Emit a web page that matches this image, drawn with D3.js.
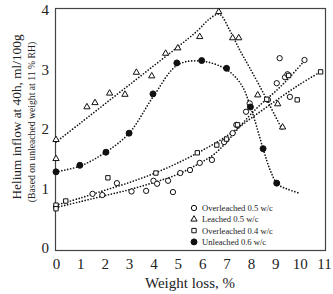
<!DOCTYPE html>
<html>
<head>
<meta charset="utf-8">
<script src="https://cdn.jsdelivr.net/npm/d3@7"></script>
<style>
  body { margin: 0; background: #fff; }
  svg text { font-family: "Liberation Serif", "DejaVu Serif", serif; }
  .fit { fill: none; stroke: #111; stroke-width: 1.7; stroke-dasharray: 0 3; stroke-linecap: round; }
</style>
</head>
<body>
<div id="chart"></div>
<script>
// measured points, [weight loss %, helium inflow]
const overleached05 = [[0, 0.69], [1.5, 0.91], [1.9, 0.89], [2.5, 1.09], [3.1, 0.95], [3.7, 0.96], [4.0, 1.13],
  [4.15, 1.08], [4.6, 1.13], [4.8, 0.94], [5.1, 1.26], [5.5, 1.31], [5.9, 1.43], [6.4, 1.48], [6.9, 1.78],
  [7.25, 1.93], [7.4, 2.07], [7.8, 2.29], [7.95, 2.43], [8.7, 2.49], [9.06, 2.77], [9.18, 3.19], [9.4, 2.87],
  [9.5, 2.92], [9.6, 2.54], [10.2, 3.16]];
const leached05 = [[0, 1.82], [0, 1.5], [1.27, 2.37], [1.6, 2.44], [2.2, 2.6], [2.83, 2.58], [3.3, 2.95],
  [3.93, 2.89], [4.5, 3.27], [5.0, 3.36], [5.9, 3.55], [6.68, 3.97], [7.25, 3.53], [7.5, 3.53], [8.28, 2.57],
  [9.1, 2.42], [9.3, 2.03]];
const overleached04 = [[0, 0.72], [0, 0.66], [0.4, 0.79], [2.13, 1.18], [4.1, 1.26], [5.8, 1.6], [6.6, 1.73],
  [7.0, 1.83], [7.45, 2.07], [8.65, 2.5], [9.55, 2.9], [9.9, 2.49], [10.86, 2.96]];
const unleached06 = [[0, 1.28], [0.98, 1.39], [2.05, 1.61], [3.0, 1.93], [3.98, 2.59], [4.96, 3.11],
  [5.98, 3.15], [7.0, 3.02], [7.98, 2.37], [8.5, 1.67], [9.06, 1.09]];

// dotted trend lines as drawn on the figure
const fitOverleached05 = [[0, 0.68], [1, 0.78], [2, 0.88], [3, 0.98], [4, 1.1], [5, 1.24], [6, 1.45], [6.5, 1.58],
  [7, 1.78], [7.5, 2.02], [8, 2.25], [8.5, 2.45], [9, 2.63], [9.5, 2.83], [10.2, 3.15]];
const fitLeached05 = [[0, 1.78], [1, 2.1], [2, 2.42], [3, 2.74], [4, 3.06], [5, 3.38], [5.8, 3.65], [6.3, 3.85],
  [6.7, 3.93], [7.13, 3.66], [7.54, 3.33], [7.95, 3.03], [8.44, 2.66], [8.77, 2.4], [9.3, 1.98]];
const fitOverleached04 = [[0, 0.72], [1, 0.84], [2, 0.97], [3, 1.1], [4, 1.25], [5, 1.43], [6, 1.64], [7, 1.88],
  [8, 2.18], [9, 2.47], [10, 2.75], [10.9, 2.97]];
const fitUnleached06 = [[0, 1.28], [1, 1.38], [2, 1.6], [3, 1.93], [4, 2.55], [5, 3.08], [6, 3.14], [7, 3.0],
  [7.6, 2.75], [8.0, 2.35], [8.5, 1.67], [8.8, 1.3], [9.1, 1.07], [9.5, 0.99], [10, 0.92]];

const seriesNames = ['Overleached 0.5 w/c', 'Leached 0.5 w/c', 'Overleached 0.4 w/c', 'Unleached 0.6 w/c'];
const xTicks = [0, 1, 2, 3, 4, 5, 6, 7, 8, 9, 10, 11];
const yTicks = [0, 1, 2, 3, 4];

const w = 333, h = 294;
const svg = d3.select('#chart').append('svg').attr('width', w).attr('height', h);

const x = d3.scaleLinear().domain([0, 11]).range([56, 324]);
const y = d3.scaleLinear().domain([0, 4]).range([248, 10]);

// frame
svg.append('rect')
  .attr('x', 55.5).attr('y', 8.5)
  .attr('width', 270).attr('height', 242)
  .attr('fill', 'none').attr('stroke', '#444').attr('stroke-width', 1.2);

const xAxis = d3.axisBottom(x).tickValues(xTicks).tickFormat(d3.format('d')).tickSize(0).tickPadding(7);
svg.append('g').attr('transform', 'translate(0,251)').call(xAxis)
  .attr('font-family', null)
  .call(g => g.select('.domain').remove())
  .selectAll('text').attr('font-size', 15).attr('fill', '#222');

const yAxis = d3.axisLeft(y).tickValues(yTicks).tickFormat(d3.format('d')).tickSize(0).tickPadding(6);
svg.append('g').attr('transform', 'translate(55,0)').call(yAxis)
  .attr('font-family', null)
  .call(g => g.select('.domain').remove())
  .selectAll('text').attr('font-size', 15).attr('fill', '#222');

// axis titles
svg.append('text')
  .attr('x', 190).attr('y', 288)
  .attr('text-anchor', 'middle').attr('font-size', 15).attr('fill', '#222')
  .text('Weight loss, %');

svg.append('text')
  .attr('transform', 'translate(21,117) rotate(-90)')
  .attr('text-anchor', 'middle').attr('font-size', 13.3).attr('fill', '#222')
  .text('Helium inflow at 40h, ml/100g');

svg.append('text')
  .attr('transform', 'translate(35,122) rotate(-90)')
  .attr('text-anchor', 'middle').attr('font-size', 9.7).attr('fill', '#222')
  .text('(Based on unleached weight at 11 % RH)');

// trend lines
const line = d3.line().x(d => x(d[0])).y(d => y(d[1])).curve(d3.curveCatmullRom);
[fitOverleached05, fitLeached05, fitOverleached04, fitUnleached06].forEach(f => {
  svg.append('path').attr('class', 'fit').attr('d', line(f));
});

// markers
const sym = [
  { type: d3.symbolCircle, size: 22, fill: '#fff' },
  { type: d3.symbolTriangle, size: 17, fill: '#fff' },
  { type: d3.symbolSquare, size: 19, fill: '#fff' },
  { type: d3.symbolCircle, size: 28, fill: '#111' }
];
const sets = [overleached05, leached05, overleached04, unleached06];

sets.forEach((pts, i) => {
  svg.append('g').selectAll('path')
    .data(pts)
    .enter()
    .append('path')
    .attr('d', d3.symbol().type(sym[i].type).size(sym[i].size))
    .attr('transform', d => `translate(${x(d[0])},${y(d[1])})`)
    .attr('fill', sym[i].fill)
    .attr('stroke', '#111')
    .attr('stroke-width', 1);
});

// legend
const legend = svg.append('g').attr('transform', 'translate(194,208)');
seriesNames.forEach((name, i) => {
  legend.append('path')
    .attr('d', d3.symbol().type(sym[i].type).size(sym[i].size)())
    .attr('transform', `translate(0,${i * 11.3})`)
    .attr('fill', sym[i].fill)
    .attr('stroke', '#111')
    .attr('stroke-width', 1);
  legend.append('text')
    .attr('x', 8).attr('y', i * 11.3 + 3)
    .attr('font-size', 8.6).attr('fill', '#222')
    .text(name);
});
</script>
</body>
</html>
